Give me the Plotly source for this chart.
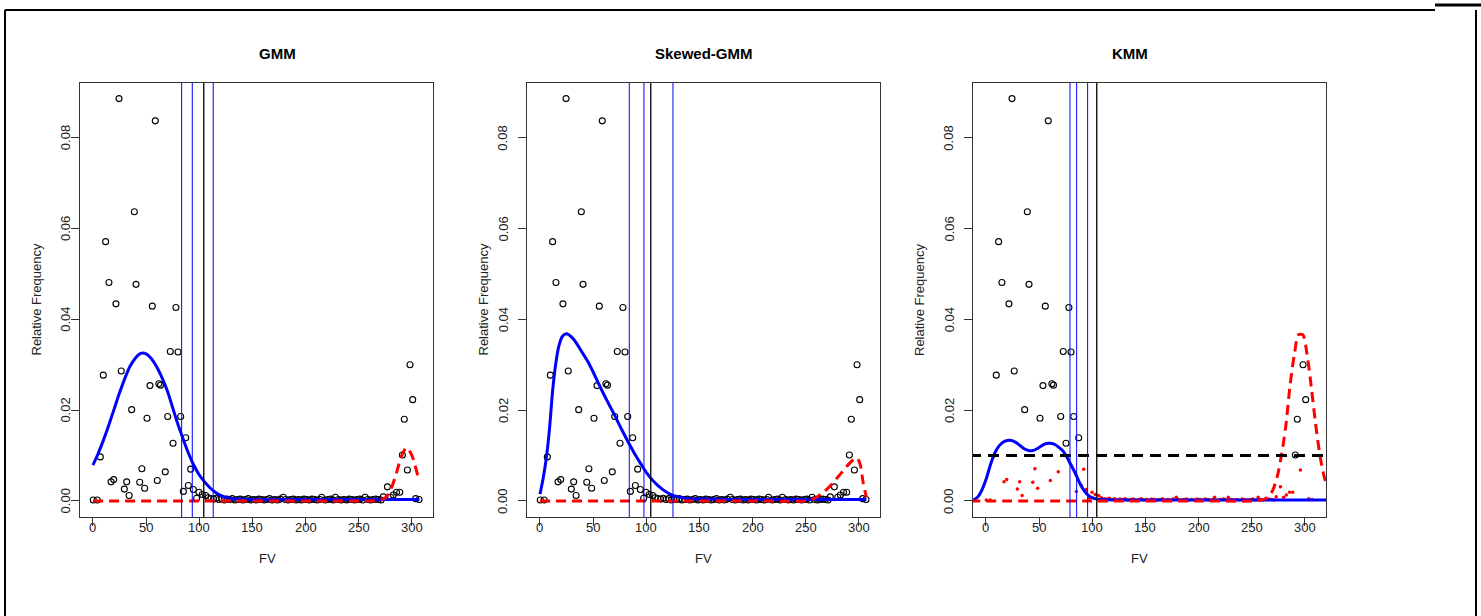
import plotly.graph_objects as go

W, H = 1481, 616

# ---- observed relative frequencies of FV ----
fv = [0.3, 4.0, 6.9, 9.7, 11.9, 15.0, 17.0, 19.5, 21.6, 24.5, 26.6, 29.5, 31.7, 34.0,
      36.4, 38.9, 40.5, 44.0, 46.0, 48.6, 50.8, 53.6, 55.8, 58.6, 60.5, 62.0, 63.5,
      68.0, 70.3, 72.7, 75.3, 78.0, 80.0, 82.5, 85.0, 87.2, 89.7, 91.9, 94.4, 97.5,
      99.7, 102.8, 106.0, 108.5, 111.0, 113.5, 116.0, 118.5, 121.0, 123.5, 126.0,
      128.5, 131.0, 133.5, 136.0, 138.5, 141.0, 143.5, 146.0, 148.5, 151.0, 153.5,
      156.0, 158.5, 161.0, 163.5, 166.0, 168.5, 171.0, 173.5, 176.0, 179.0, 181.0,
      183.5, 186.0, 188.5, 191.0, 193.5, 196.0, 198.5, 201.0, 203.5, 206.0, 208.5,
      211.0, 213.5, 215.0, 218.5, 221.0, 223.5, 226.0, 228.0, 231.0, 233.5, 236.0,
      238.5, 241.0, 243.5, 246.0, 248.5, 251.0, 253.5, 256.0, 258.5, 261.0, 263.5,
      266.0, 268.5, 271.0, 273.0, 276.9, 280.0, 282.5, 285.5, 288.5, 291.0, 292.8,
      295.7, 298.2, 300.7, 303.5, 306.7]
rel_freq = [0.0002, 0.0002, 0.0097, 0.0277, 0.0571, 0.0481, 0.0042, 0.0047, 0.0434,
            0.0886, 0.0286, 0.0026, 0.0042, 0.0012, 0.0201, 0.0637, 0.0477, 0.0041,
            0.0071, 0.0028, 0.0182, 0.0254, 0.0429, 0.0837, 0.0045, 0.0258, 0.0255,
            0.0064, 0.0186, 0.0329, 0.0127, 0.0426, 0.0328, 0.0186, 0.0021, 0.0139,
            0.0034, 0.0070, 0.0025, 0.0006, 0.0019, 0.0014, 0.0012, 0.0007, 0.0005,
            0.0004, 0.0006, 0.0003, 0.0005, 0.0002, 0.0004, 0.0003, 0.0005, 0.0002,
            0.0003, 0.0004, 0.0002, 0.0003, 0.0005, 0.0002, 0.0003, 0.0002, 0.0004,
            0.0003, 0.0002, 0.0003, 0.0005, 0.0002, 0.0003, 0.0002, 0.0004, 0.0008,
            0.0003, 0.0002, 0.0003, 0.0004, 0.0002, 0.0003, 0.0002, 0.0004, 0.0003,
            0.0002, 0.0004, 0.0003, 0.0002, 0.0003, 0.0008, 0.0002, 0.0003, 0.0004,
            0.0002, 0.0008, 0.0003, 0.0002, 0.0003, 0.0002, 0.0004, 0.0003, 0.0002,
            0.0003, 0.0004, 0.0002, 0.0008, 0.0003, 0.0002, 0.0003, 0.0004, 0.0003,
            0.0002, 0.0009, 0.0031, 0.0008, 0.0013, 0.0019, 0.0019, 0.0101, 0.0180,
            0.0068, 0.0300, 0.0223, 0.0005, 0.0003]

# ---- fitted component densities ----
gmm_x1 = [0, 5, 10, 15, 20, 25, 30, 35, 40, 45, 50, 55, 60, 65, 70, 75, 80, 85, 90,
          95, 100, 105, 110, 115, 120, 125, 130, 140, 150, 200, 250, 307]
gmm_y1 = [0.0079, 0.0105, 0.0135, 0.0168, 0.0203, 0.0238, 0.0270, 0.0297, 0.0315,
          0.0325, 0.0324, 0.0313, 0.0295, 0.0271, 0.0242, 0.0205, 0.0168, 0.0135,
          0.0104, 0.0078, 0.0057, 0.0042, 0.0029, 0.0019, 0.0012, 0.0008, 0.0005,
          0.0004, 0.0003, 0.0003, 0.0003, 0.0003]
gmm_x2 = [0, 100, 200, 260, 265, 270, 275, 280, 285, 290, 295, 300, 305, 307]
gmm_y2 = [0, 0, 0, 0, 0.00005, 0.0002, 0.0007, 0.0025, 0.0058, 0.0098, 0.0117,
          0.0100, 0.0060, 0.0045]

sgmm_x1 = [0, 3, 6, 9, 12, 15, 18, 21, 25, 30, 35, 40, 45, 50, 55, 60, 65, 70, 75,
           80, 85, 90, 95, 100, 105, 110, 115, 120, 125, 130, 140, 150, 200, 250, 307]
sgmm_y1 = [0.0015, 0.0050, 0.0095, 0.0160, 0.0245, 0.0305, 0.0343, 0.0362, 0.0368,
           0.0360, 0.0345, 0.0326, 0.0307, 0.0284, 0.0259, 0.0235, 0.0212, 0.0190,
           0.0166, 0.0143, 0.0121, 0.0100, 0.0081, 0.0063, 0.0048, 0.0036, 0.0026,
           0.0018, 0.0012, 0.0009, 0.0005, 0.0004, 0.0003, 0.0003, 0.0003]
sgmm_x2 = [0, 100, 200, 250, 255, 260, 265, 270, 275, 280, 285, 290, 295, 298, 301,
           304, 307]
sgmm_y2 = [0, 0, 0, 0, 0.0002, 0.0008, 0.0016, 0.0026, 0.0038, 0.0052, 0.0066,
           0.0080, 0.0091, 0.0095, 0.0082, 0.0040, 0.0008]

kmm_x1 = [-15, -12, -8, -4, 0, 4, 8, 12, 16, 20, 24, 28, 32, 36, 40, 44, 48, 52, 56,
          60, 64, 68, 72, 76, 80, 84, 88, 92, 96, 100, 105, 110, 120, 200, 325]
kmm_y1 = [0.0001, 0.0002, 0.0008, 0.0023, 0.0047, 0.0078, 0.0104, 0.0120, 0.0129,
          0.0133, 0.0133, 0.0129, 0.0122, 0.0115, 0.0111, 0.0111, 0.0115, 0.0121,
          0.0126, 0.0127, 0.0125, 0.0119, 0.0111, 0.0097, 0.0079, 0.0061, 0.0040,
          0.0024, 0.0013, 0.0007, 0.0004, 0.0003, 0.0002, 0.0002, 0.0002]
kmm_x2 = [-15, 100, 200, 255, 262, 266, 270, 274, 278, 282, 286, 290, 294, 298, 302,
          306, 310, 314, 318, 322, 325]
kmm_y2 = [0, 0, 0, 0.00005, 0.0004, 0.0010, 0.0025, 0.0054, 0.0102, 0.0165, 0.0255,
          0.0322, 0.0366, 0.0366, 0.0322, 0.0250, 0.0170, 0.0102, 0.0054, 0.0025,
          0.0015]
kmm_level = 0.0100

# ---- cut-offs (vertical reference lines) ----
gmm_blue_cuts = [83.4, 93.4, 113.1]
sgmm_blue_cuts = [84.0, 97.8, 125.1]
kmm_blue_cuts = [79.0, 85.3, 95.6]
true_cut = 104.2

titles = ["GMM", "Skewed-GMM", "KMM"]
x_ticks = [0, 50, 100, 150, 200, 250, 300]
x_tick_text = ["0", "50", "100", "150", "200", "250", "300"]
y_ticks = [0.00, 0.02, 0.04, 0.06, 0.08]
y_tick_text = ["0.00", "0.02", "0.04", "0.06", "0.08"]

X_RANGE = [-12.2, 319.8]
Y_RANGE = [-0.00354, 0.09204]

# plot boxes in pixels
BOX_LEFT = [80, 527, 973]
BOX_W = 353
BOX_TOP, BOX_BOTTOM = 83, 517
TITLE_Y = 43
XLAB_Y = 537
XTITLE_Y = 568
YLAB_DX = 24
YTITLE_DX = 54

FONT = "Liberation Sans, Arial, Helvetica, sans-serif"
TXT = "#222222"
RED_DASH = "10px,6px"

fig = go.Figure()


def px_x(p):
    return p / W


def px_y(p):
    return 1 - p / H


def add_points(xs, ys, xa, ya, red=False):
    if red:
        mk = dict(symbol="circle", size=3.5, color="#ff0000", line=dict(width=0))
    else:
        mk = dict(symbol="circle-open", size=6, color="black",
                  line=dict(width=1.1, color="black"))
    fig.add_trace(go.Scatter(x=xs, y=ys, mode="markers", xaxis=xa, yaxis=ya, marker=mk,
                             showlegend=False, hoverinfo="skip"))


for i in range(3):
    sfx = "" if i == 0 else str(i + 1)
    xa, ya = "x" + sfx, "y" + sfx

    # observed points
    if i < 2:
        add_points(fv, rel_freq, xa, ya)
    else:
        hi = [(a, b) for a, b in zip(fv, rel_freq) if b >= kmm_level]
        lo = [(a, b) for a, b in zip(fv, rel_freq) if b < kmm_level]
        add_points([p[0] for p in hi], [p[1] for p in hi], xa, ya)
        add_points([p[0] for p in lo], [p[1] for p in lo], xa, ya, red=True)

    if i == 0:
        c1, c2, cuts = (gmm_x1, gmm_y1), (gmm_x2, gmm_y2), gmm_blue_cuts
    elif i == 1:
        c1, c2, cuts = (sgmm_x1, sgmm_y1), (sgmm_x2, sgmm_y2), sgmm_blue_cuts
    else:
        c1, c2, cuts = (kmm_x1, kmm_y1), (kmm_x2, kmm_y2), kmm_blue_cuts

    fig.add_trace(go.Scatter(x=c1[0], y=c1[1], mode="lines", xaxis=xa, yaxis=ya,
                             line=dict(color="#0000ff", width=3, shape="spline",
                                       smoothing=0.8),
                             showlegend=False, hoverinfo="skip"))
    fig.add_trace(go.Scatter(x=c2[0], y=c2[1], mode="lines", xaxis=xa, yaxis=ya,
                             line=dict(color="#ff0000", width=3, dash=RED_DASH,
                                       shape="spline", smoothing=0.8),
                             showlegend=False, hoverinfo="skip"))
    if i == 2:
        fig.add_trace(go.Scatter(x=[-15, 325], y=[kmm_level, kmm_level], mode="lines",
                                 xaxis=xa, yaxis=ya,
                                 line=dict(color="black", width=3, dash="11px,7px"),
                                 showlegend=False, hoverinfo="skip"))

    for c in cuts:
        fig.add_shape(type="line", xref=xa, yref="paper", x0=c, x1=c,
                      y0=px_y(BOX_BOTTOM), y1=px_y(BOX_TOP),
                      line=dict(color="#0000ff", width=1))
    fig.add_shape(type="line", xref=xa, yref="paper", x0=true_cut, x1=true_cut,
                  y0=px_y(BOX_BOTTOM), y1=px_y(BOX_TOP),
                  line=dict(color="black", width=1.3))

    left = BOX_LEFT[i]
    dom_x = [px_x(left), px_x(left + BOX_W)]
    dom_y = [px_y(BOX_BOTTOM), px_y(BOX_TOP)]
    axis_common = dict(showgrid=False, zeroline=False, showline=True, mirror=True,
                       linecolor="#333333", linewidth=1, ticks="outside", ticklen=8,
                       tickcolor="#333333", tickwidth=1, showticklabels=False)
    fig.update_layout(**{
        ("xaxis" + sfx): dict(domain=dom_x, range=X_RANGE, tickvals=x_ticks,
                              anchor=ya, **axis_common),
        ("yaxis" + sfx): dict(domain=dom_y, range=Y_RANGE, tickvals=y_ticks,
                              anchor=xa, **axis_common),
    })

    # tick labels
    for v, t in zip(x_ticks, x_tick_text):
        fig.add_annotation(text=t, xref=xa, yref="paper", x=v, y=px_y(XLAB_Y),
                           showarrow=False, font=dict(family=FONT, size=13, color=TXT))
    for v, t in zip(y_ticks, y_tick_text):
        fig.add_annotation(text=t, xref="paper", yref=ya, x=px_x(left - YLAB_DX), y=v,
                           textangle=-90, showarrow=False,
                           font=dict(family=FONT, size=13, color=TXT))

    cx = left + BOX_W / 2
    fig.add_annotation(text="<b>" + titles[i] + "</b>", xref="paper", yref="paper",
                       x=px_x(cx), y=px_y(TITLE_Y), showarrow=False,
                       font=dict(family=FONT, size=15, color="black"))
    fig.add_annotation(text="FV", xref="paper", yref="paper", x=px_x(cx),
                       y=px_y(XTITLE_Y), showarrow=False,
                       font=dict(family=FONT, size=13, color=TXT))
    fig.add_annotation(text="Relative Frequency", xref="paper", yref="paper",
                       x=px_x(left - YTITLE_DX), y=px_y((BOX_TOP + BOX_BOTTOM) / 2),
                       textangle=-90, showarrow=False,
                       font=dict(family=FONT, size=13, color=TXT))

# page frame
frame = dict(color="black", width=2)
fig.add_shape(type="line", xref="paper", yref="paper", x0=px_x(5), x1=px_x(5),
              y0=0, y1=px_y(10), line=frame)
fig.add_shape(type="line", xref="paper", yref="paper", x0=px_x(5), x1=px_x(1435),
              y0=px_y(10), y1=px_y(10), line=frame)
fig.add_shape(type="line", xref="paper", yref="paper", x0=px_x(1435), x1=1,
              y0=px_y(5), y1=px_y(5), line=dict(color="black", width=3))
fig.add_shape(type="line", xref="paper", yref="paper", x0=px_x(1476), x1=px_x(1476),
              y0=0, y1=px_y(10), line=frame)

fig.update_layout(width=W, height=H, margin=dict(l=0, r=0, t=0, b=0),
                  paper_bgcolor="white", plot_bgcolor="white", showlegend=False)

fig.write_html("out.html")
